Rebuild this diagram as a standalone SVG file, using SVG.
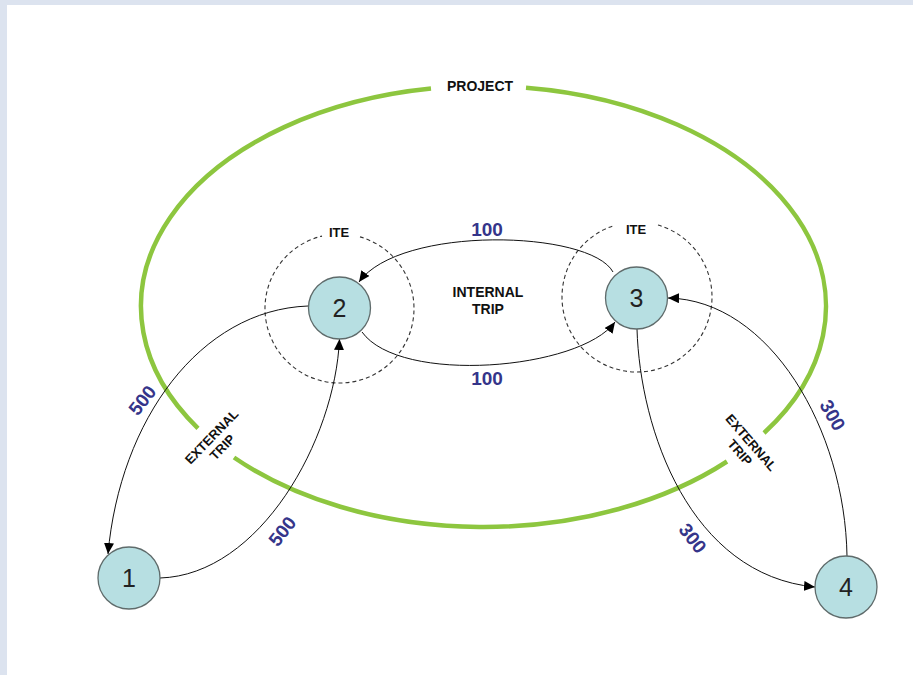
<svg xmlns="http://www.w3.org/2000/svg" width="913" height="675" viewBox="0 0 913 675">
  <style>
    .bold { font-family: "Liberation Sans", Arial, sans-serif; font-weight: bold; }
    .lbl { font-size: 14px; fill: #111; text-anchor: middle; }
    .sm { font-size: 13px; }
    .num { font-size: 19px; fill: #35358a; text-anchor: middle; }
    .node circle { fill: #b7dfe2; stroke: #5f6b6b; stroke-width: 1.3; }
    .node text { font-family: "Liberation Sans", Arial, sans-serif; font-size: 25px; fill: #222; text-anchor: middle; }
    .conn path { fill: none; stroke: #111; stroke-width: 1; }
    .ite { fill: none; stroke: #333; stroke-width: 1.1; stroke-dasharray: 4 3; }
    .proj { fill: none; stroke: #8dc63f; stroke-width: 4.5; }
  </style>
  <defs>
    <marker id="arr" markerUnits="userSpaceOnUse" markerWidth="11" markerHeight="10" refX="11" refY="5" orient="auto">
      <path d="M0,0 L11,5 L0,10 z" fill="#000"/>
    </marker>
  </defs>
  <rect x="0" y="0" width="913" height="675" fill="#ffffff"/>
  <rect x="0" y="0" width="913" height="5" fill="#dce3ef"/>
  <rect x="0" y="0" width="7" height="675" fill="#dce3ef"/>

  <g id="project">
    <path class="proj" d="M526,87.7 A342.5,220.5 0 0 1 764,433"/>
    <path class="proj" d="M727,461.5 A342.5,220.5 0 0 1 234,457.5"/>
    <path class="proj" d="M198,428.3 A342.5,220.5 0 0 1 431,88.6"/>
    <text class="bold lbl" x="480" y="91">PROJECT</text>
  </g>

  <g id="ite2">
    <path class="ite" d="M360,236.9 A74.5,74.5 0 1 1 322,236.1"/>
    <text class="bold lbl sm" x="339" y="237">ITE</text>
  </g>
  <g id="ite3">
    <path class="ite" d="M658,225 A75,75 0 1 1 615,225.3"/>
    <text class="bold lbl sm" x="636" y="234">ITE</text>
  </g>

  <g id="connectors" class="conn">
    <path d="M613,272 C590,230 400,225 359,282" marker-end="url(#arr)"/>
    <path d="M362,332 C400,385 580,370 615,322" marker-end="url(#arr)"/>
    <path d="M308,306 C200,310 120,420 108,554" marker-end="url(#arr)"/>
    <path d="M160,578 C260,575 335,440 339.5,339" marker-end="url(#arr)"/>
    <path d="M637,329 C640,430 690,575 815,587" marker-end="url(#arr)"/>
    <path d="M847,556 C845,430 770,300 668,298" marker-end="url(#arr)"/>
  </g>

  <g id="labels">
    <text class="bold num" x="487" y="236">100</text>
    <text class="bold num" x="487" y="385">100</text>
    <text class="bold lbl" x="488" y="297">INTERNAL</text>
    <text class="bold lbl" x="488" y="314">TRIP</text>
    <text class="bold num" transform="translate(142,400) rotate(-52)" x="0" y="7">500</text>
    <text class="bold num" transform="translate(282,531) rotate(-52)" x="0" y="7">500</text>
    <text class="bold num" transform="translate(833,415) rotate(60)" x="0" y="7">300</text>
    <text class="bold num" transform="translate(693,538) rotate(52)" x="0" y="7">300</text>
    <g transform="translate(217,442) rotate(-46)">
      <text class="bold lbl sm" x="0" y="-3">EXTERNAL</text>
      <text class="bold lbl sm" x="0" y="12">TRIP</text>
    </g>
    <g transform="translate(745.5,447.5) rotate(49)">
      <text class="bold lbl sm" x="0" y="-3">EXTERNAL</text>
      <text class="bold lbl sm" x="0" y="12">TRIP</text>
    </g>
  </g>

  <g id="node1" class="node"><circle cx="129" cy="578" r="31"/><text x="129" y="587">1</text></g>
  <g id="node2" class="node"><circle cx="339.5" cy="308" r="31"/><text x="339.5" y="317">2</text></g>
  <g id="node3" class="node"><circle cx="636.5" cy="298" r="31"/><text x="636.5" y="307">3</text></g>
  <g id="node4" class="node"><circle cx="846" cy="587" r="31"/><text x="846" y="596">4</text></g>
</svg>
